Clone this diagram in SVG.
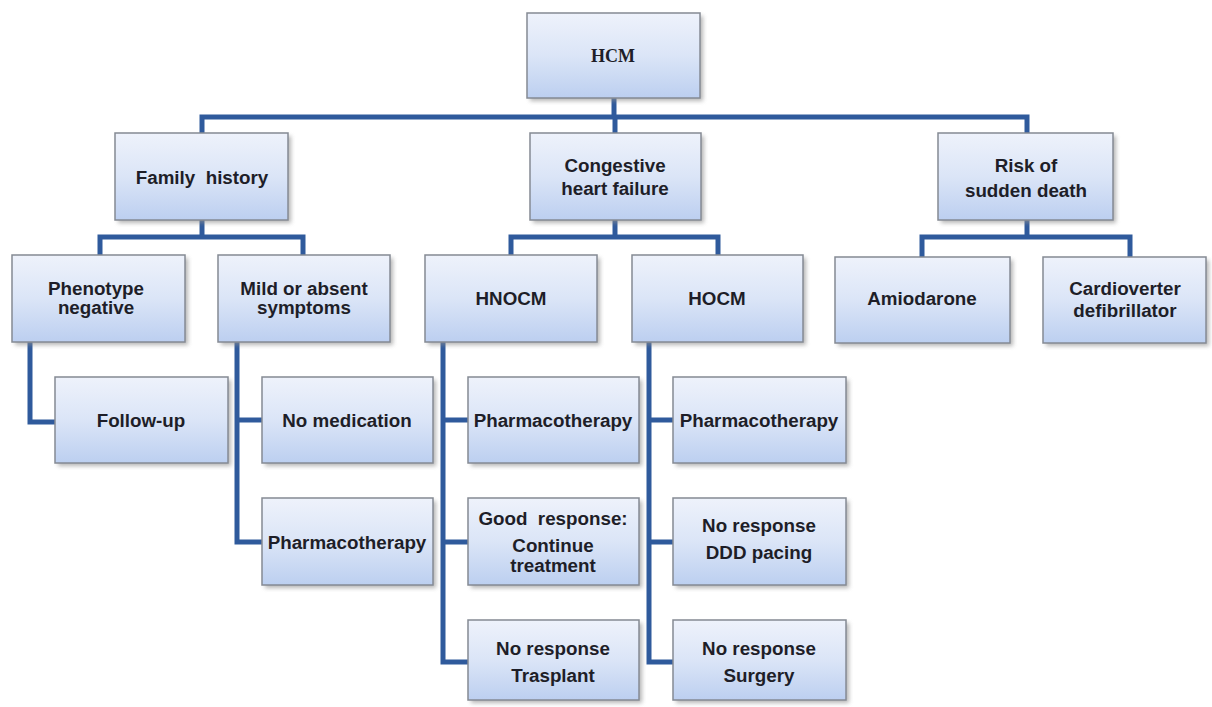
<svg xmlns="http://www.w3.org/2000/svg" width="1212" height="707" viewBox="0 0 1212 707">
<defs>
<linearGradient id="g" x1="0" y1="0" x2="0" y2="1">
<stop offset="0" stop-color="#eef2fb"/>
<stop offset="0.5" stop-color="#dbe5f7"/>
<stop offset="1" stop-color="#bccff0"/>
</linearGradient>
<filter id="sh" x="-10%" y="-10%" width="130%" height="140%">
<feGaussianBlur stdDeviation="2"/>
</filter>
</defs>
<style>
.box{fill:url(#g);stroke:#858a94;stroke-width:1.5}
.shd{fill:#8f8f8f;opacity:0.65;filter:url(#sh)}
.t{font-family:"Liberation Sans",Arial,sans-serif;font-weight:bold;font-size:18.8px;fill:#1e1e28;text-anchor:middle}
.ts{font-family:"Liberation Serif","Times New Roman",serif;font-weight:bold;font-size:18px;fill:#1e1e28;text-anchor:middle}
.c{fill:none;stroke:#2f5a9c;stroke-width:5;stroke-linejoin:miter}
</style>
<rect width="1212" height="707" fill="#ffffff"/>
<g id="connectors">
<path class="c" d="M614,98 V117"/>
<path class="c" d="M202,133 V117 H1027 V133"/>
<path class="c" d="M615,117 V133"/>
<path class="c" d="M202,220 V237"/>
<path class="c" d="M100,255 V237 H303 V255"/>
<path class="c" d="M615,220 V237"/>
<path class="c" d="M511,255 V237 H718 V255"/>
<path class="c" d="M1027,220 V237"/>
<path class="c" d="M922,257 V237 H1130 V257"/>
<path class="c" d="M30,342 V422 H55"/>
<path class="c" d="M237,342 V542 H262"/>
<path class="c" d="M237,420 H262"/>
<path class="c" d="M443,342 V662 H468"/>
<path class="c" d="M443,420 H468 M443,542 H468"/>
<path class="c" d="M649,342 V662 H673"/>
<path class="c" d="M649,420 H673 M649,542 H673"/>
</g>
<g id="hcm"><rect class="shd" x="530" y="16" width="173" height="85"/><rect class="box" x="527" y="13" width="173" height="85"/><text class="ts" x="613" y="62">HCM</text></g>
<g id="family"><rect class="shd" x="118" y="136" width="173" height="87"/><rect class="box" x="115" y="133" width="173" height="87"/><text class="t" x="202" y="184" xml:space="preserve">Family  history</text></g>
<g id="chf"><rect class="shd" x="533" y="136" width="171" height="87"/><rect class="box" x="530" y="133" width="171" height="87"/><text class="t" x="615" y="172">Congestive</text><text class="t" x="615" y="195">heart failure</text></g>
<g id="risk"><rect class="shd" x="941" y="136" width="175" height="87"/><rect class="box" x="938" y="133" width="175" height="87"/><text class="t" x="1026" y="172">Risk of</text><text class="t" x="1026" y="197">sudden death</text></g>
<g id="phenotype"><rect class="shd" x="15" y="258" width="173" height="87"/><rect class="box" x="12" y="255" width="173" height="87"/><text class="t" x="96" y="295">Phenotype</text><text class="t" x="96" y="314">negative</text></g>
<g id="mild"><rect class="shd" x="221" y="258" width="172" height="87"/><rect class="box" x="218" y="255" width="172" height="87"/><text class="t" x="304" y="295">Mild or absent</text><text class="t" x="304" y="314">symptoms</text></g>
<g id="hnocm"><rect class="shd" x="428" y="258" width="172" height="87"/><rect class="box" x="425" y="255" width="172" height="87"/><text class="t" x="511" y="305">HNOCM</text></g>
<g id="hocm"><rect class="shd" x="635" y="258" width="171" height="87"/><rect class="box" x="632" y="255" width="171" height="87"/><text class="t" x="717" y="305">HOCM</text></g>
<g id="amiodarone"><rect class="shd" x="838" y="260" width="175" height="86"/><rect class="box" x="835" y="257" width="175" height="86"/><text class="t" x="922" y="305">Amiodarone</text></g>
<g id="cardioverter"><rect class="shd" x="1046" y="260" width="163" height="86"/><rect class="box" x="1043" y="257" width="163" height="86"/><text class="t" x="1125" y="295">Cardioverter</text><text class="t" x="1125" y="317">defibrillator</text></g>
<g id="followup"><rect class="shd" x="58" y="380" width="173" height="86"/><rect class="box" x="55" y="377" width="173" height="86"/><text class="t" x="141" y="427">Follow-up</text></g>
<g id="nomed"><rect class="shd" x="265" y="380" width="171" height="86"/><rect class="box" x="262" y="377" width="171" height="86"/><text class="t" x="347" y="427">No medication</text></g>
<g id="pharma1"><rect class="shd" x="265" y="501" width="171" height="87"/><rect class="box" x="262" y="498" width="171" height="87"/><text class="t" x="347" y="549">Pharmacotherapy</text></g>
<g id="pharma2"><rect class="shd" x="471" y="380" width="171" height="86"/><rect class="box" x="468" y="377" width="171" height="86"/><text class="t" x="553" y="427">Pharmacotherapy</text></g>
<g id="good"><rect class="shd" x="471" y="501" width="171" height="87"/><rect class="box" x="468" y="498" width="171" height="87"/><text class="t" x="553" y="525" xml:space="preserve">Good  response:</text><text class="t" x="553" y="552">Continue</text><text class="t" x="553" y="572">treatment</text></g>
<g id="trasplant"><rect class="shd" x="471" y="623" width="171" height="80"/><rect class="box" x="468" y="620" width="171" height="80"/><text class="t" x="553" y="655">No response</text><text class="t" x="553" y="682">Trasplant</text></g>
<g id="pharma3"><rect class="shd" x="676" y="380" width="173" height="86"/><rect class="box" x="673" y="377" width="173" height="86"/><text class="t" x="759" y="427">Pharmacotherapy</text></g>
<g id="ddd"><rect class="shd" x="676" y="501" width="173" height="87"/><rect class="box" x="673" y="498" width="173" height="87"/><text class="t" x="759" y="532">No response</text><text class="t" x="759" y="559">DDD pacing</text></g>
<g id="surgery"><rect class="shd" x="676" y="623" width="173" height="80"/><rect class="box" x="673" y="620" width="173" height="80"/><text class="t" x="759" y="655">No response</text><text class="t" x="759" y="682">Surgery</text></g>
</svg>
